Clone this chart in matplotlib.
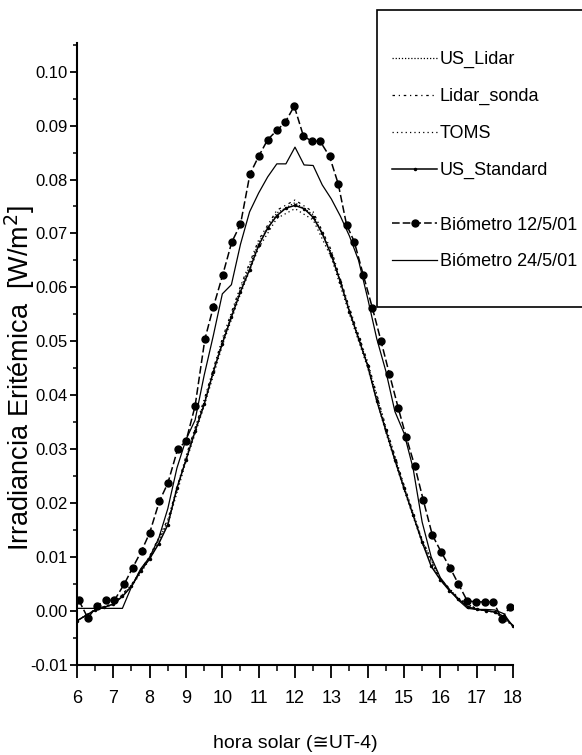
import numpy as np
import matplotlib
matplotlib.use("Agg")
import matplotlib.pyplot as plt
from matplotlib.ticker import MultipleLocator, FormatStrFormatter
from matplotlib.patches import Rectangle

plt.rcParams['font.family'] = ['Liberation Sans', 'DejaVu Sans']

# hours on a 15 min grid for the models and the 24/5 biometer
horas = np.arange(6.0, 18.01, 0.25)
horas_mod = np.arange(6.0, 18.01, 0.5)

us_standard = [-0.0018, -0.0008, 0.0002, 0.0007, 0.0013, 0.0027, 0.0046, 0.0074,
               0.0097, 0.0125, 0.0160, 0.0228, 0.0280, 0.0333, 0.0383, 0.0443,
               0.0496, 0.0545, 0.0592, 0.0633, 0.0678, 0.0710, 0.0733, 0.0747,
               0.0752, 0.0746, 0.0730, 0.0700, 0.0660, 0.0610, 0.0555, 0.0505,
               0.0455, 0.0390, 0.0335, 0.0280, 0.0228, 0.0178, 0.0128, 0.0083,
               0.0058, 0.0038, 0.0022, 0.0008, 0.0003, 0.0001, -0.0002, -0.0010,
               -0.0027]

us_lidar = [-0.0018, 0.0002, 0.0013, 0.0047, 0.0099, 0.0166, 0.0283, 0.0387, 0.0500,
            0.0597, 0.0683, 0.0738, 0.0757, 0.0735, 0.0664, 0.0558, 0.0458, 0.0338,
            0.0231, 0.0130, 0.0059, 0.0023, 0.0003, -0.0002, -0.0027]
lidar_sonda = [-0.0018, 0.0003, 0.0014, 0.0049, 0.0102, 0.0170, 0.0287, 0.0392, 0.0505,
               0.0602, 0.0688, 0.0743, 0.0762, 0.0740, 0.0669, 0.0562, 0.0462, 0.0342,
               0.0234, 0.0132, 0.0060, 0.0024, 0.0004, -0.0002, -0.0027]
toms = [-0.0018, 0.0002, 0.0012, 0.0045, 0.0096, 0.0161, 0.0277, 0.0380, 0.0492,
        0.0588, 0.0673, 0.0728, 0.0746, 0.0725, 0.0655, 0.0550, 0.0451, 0.0331,
        0.0225, 0.0126, 0.0057, 0.0022, 0.0003, -0.0002, -0.0027]

bio24 = [0.0005, 0.0005, 0.0005, 0.0005, 0.0005, 0.0005, 0.0045, 0.0078,
         0.0100, 0.0135, 0.0190, 0.0265, 0.0318, 0.0354, 0.0437, 0.0510,
         0.0588, 0.0605, 0.0680, 0.0740, 0.0775, 0.0805, 0.0829, 0.0829,
         0.0860, 0.0827, 0.0826, 0.0790, 0.0764, 0.0732, 0.0695, 0.0650,
         0.0580, 0.0505, 0.0445, 0.0370, 0.0330, 0.0265, 0.0165, 0.0100,
         0.0062, 0.0040, 0.0020, 0.0005, 0.0003, 0.0003, 0.0002, -0.0005,
         -0.0029]

# 12/5 biometer, hours
horas_bio12 = [6.05, 6.3, 6.55, 6.8, 7.03, 7.3, 7.53, 7.78, 8.0, 8.27, 8.5, 8.77,
               9.0, 9.25, 9.52, 9.75, 10.01, 10.26, 10.5, 10.76, 11.0, 11.25, 11.5,
               11.73, 11.98, 12.23, 12.46, 12.69, 12.95, 13.19, 13.42, 13.63, 13.88,
               14.13, 14.37, 14.6, 14.84, 15.06, 15.3, 15.53, 15.78, 16.02, 16.27,
               16.5, 16.74, 16.98, 17.23, 17.46, 17.69, 17.92]
bio12 = [0.002, -0.0013, 0.001, 0.002, 0.002, 0.005, 0.008, 0.0112, 0.0145, 0.0204,
         0.0237, 0.030, 0.0315, 0.038, 0.0504, 0.0563, 0.0623, 0.0684, 0.0717, 0.081,
         0.0843, 0.0874, 0.0891, 0.0906, 0.0936, 0.0881, 0.0871, 0.0871, 0.0843,
         0.0792, 0.0716, 0.0685, 0.0623, 0.0562, 0.050, 0.0439, 0.0377, 0.0323,
         0.0268, 0.0206, 0.0141, 0.011, 0.008, 0.005, 0.0019, 0.0017, 0.0017,
         0.0017, -0.0014, 0.0008]

fig = plt.figure(figsize=(5.82, 7.55), dpi=100)
ax = fig.add_axes([0.1323, 0.1192, 0.7491, 0.8238])

l1, = ax.plot(horas_mod, us_lidar, color='k', lw=0.9, ls=(0, (1, 1.5)))
l2, = ax.plot(horas_mod, lidar_sonda, color='k', lw=0.9, ls=(0, (2, 3, 1, 3)))
l3, = ax.plot(horas_mod, toms, color='k', lw=0.9, ls=(0, (1, 2.5)))
l4, = ax.plot(horas, us_standard, color='k', lw=1.1, marker='.', ms=3)
l5, = ax.plot(horas_bio12, bio12, color='k', lw=1.1, ls=(0, (5, 2)), marker='o', ms=5)
l6, = ax.plot(horas, bio24, color='k', lw=0.9)

ax.set_xlim(6, 18)
ax.set_ylim(-0.01, 0.1053)
ax.spines['top'].set_visible(False)
ax.spines['right'].set_visible(False)
ax.spines['left'].set_linewidth(1.5)
ax.spines['bottom'].set_linewidth(1.5)

ax.xaxis.set_major_locator(MultipleLocator(1))
ax.xaxis.set_minor_locator(MultipleLocator(0.5))
ax.yaxis.set_major_locator(MultipleLocator(0.01))
ax.yaxis.set_minor_locator(MultipleLocator(0.005))
ax.yaxis.set_major_formatter(FormatStrFormatter('%.2f'))

ax.tick_params(axis='x', which='major', direction='out', length=9, width=1.3, pad=9, labelsize=13)
ax.tick_params(axis='x', which='minor', direction='out', length=4.5, width=1.1)
ax.tick_params(axis='y', which='major', direction='out', length=5, width=1.3, pad=1.5, labelsize=12)
ax.tick_params(axis='y', which='minor', direction='out', length=3, width=1.1)

ax.set_xlabel('hora solar (\u2245UT-4)', fontsize=14)
ax.xaxis.set_label_coords(0.5, -0.112)
ax.set_ylabel('Irradiancia Eritémica  [W/m$^2$]', fontsize=19.5)
ax.yaxis.set_label_coords(-0.092, 0.461)

frame = Rectangle((0.6478, 0.5934), 0.4, 0.3934, transform=fig.transFigure,
                  facecolor='white', edgecolor='k', lw=1.2, zorder=3)
fig.patches.append(frame)

leg_kw = dict(frameon=False, loc='center left', borderpad=0, borderaxespad=0,
              handlelength=2.5, handletextpad=0.15, labelspacing=1.1,
              fontsize=13, bbox_transform=fig.transFigure)
leg1 = fig.legend([l1, l2, l3, l4], ['US_Lidar', 'Lidar_sonda', 'TOMS', 'US_Standard'],
                  bbox_to_anchor=(0.6735, 0.8477), **leg_kw)
leg2 = fig.legend([l5, l6], ['Biómetro 12/5/01', 'Biómetro 24/5/01'],
                  bbox_to_anchor=(0.6735, 0.6775), **leg_kw)
leg1.set_zorder(5)
leg2.set_zorder(5)

fig.savefig('out.png', dpi=100)
